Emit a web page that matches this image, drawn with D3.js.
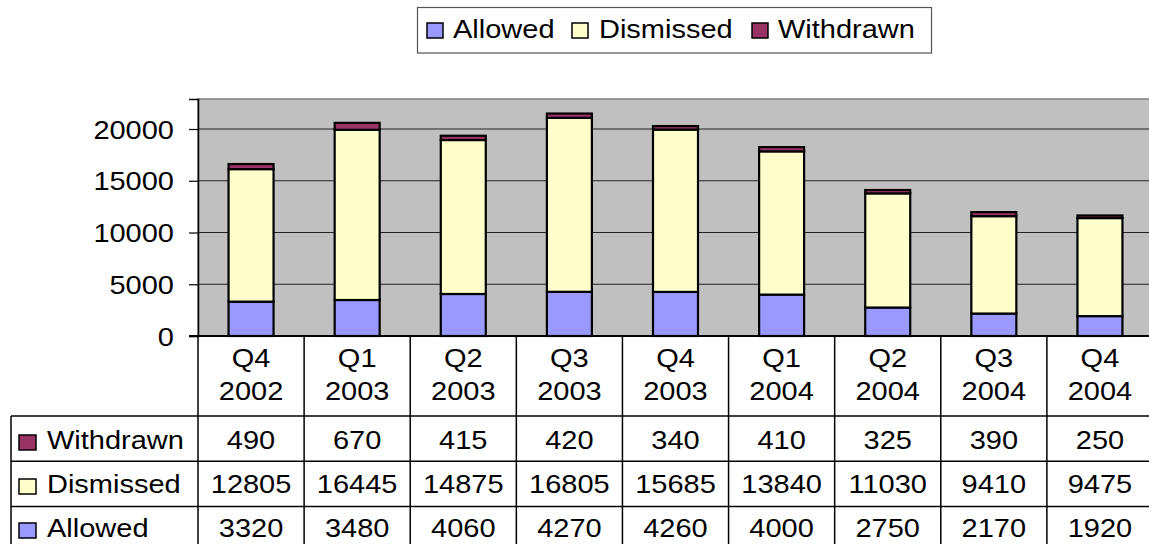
<!DOCTYPE html>
<html>
<head>
<meta charset="utf-8">
<script src="https://cdn.jsdelivr.net/npm/d3@7"></script>
<style>
  body { margin: 0; background: #fff; }
  svg { display: block; font-family: "Liberation Sans", Arial, sans-serif; }
</style>
</head>
<body>
<svg id="chart"></svg>
<script>
// Data
const categories = ['Q4 2002', 'Q1 2003', 'Q2 2003', 'Q3 2003', 'Q4 2003', 'Q1 2004', 'Q2 2004', 'Q3 2004', 'Q4 2004'];
const allowed   = [3320, 3480, 4060, 4270, 4260, 4000, 2750, 2170, 1920];
const dismissed = [12805, 16445, 14875, 16805, 15685, 13840, 11030, 9410, 9475];
const withdrawn = [490, 670, 415, 420, 340, 410, 325, 390, 250];
const seriesNames = ['Allowed', 'Dismissed', 'Withdrawn'];
const seriesColors = ['#9999ff', '#ffffcc', '#993366'];
const yTicks = [0, 5000, 10000, 15000, 20000];

const W = 1149, H = 544;
const plot = { left: 198, right: 1153, top: 99, bottom: 336 };
const fontSize = 25;
const stretch = 1.16; // reference text is slightly wide

const svg = d3.select('#chart').attr('width', W).attr('height', H);

// helper for horizontally stretched text
const addText = (sel, x, y, str, anchor) => sel.append('text')
  .attr('transform', `translate(${x},${y}) scale(${stretch},1)`)
  .attr('text-anchor', anchor || 'middle')
  .style('font-size', fontSize + 'px')
  .attr('fill', '#000')
  .text(str);

const rows = categories.map((c, i) => ({
  cat: c, Allowed: allowed[i], Dismissed: dismissed[i], Withdrawn: withdrawn[i]
}));

const x = d3.scaleBand().domain(categories).range([plot.left, plot.right]).paddingInner(0.576).paddingOuter(0.288);
const col = d3.scaleBand().domain(categories).range([plot.left, plot.right]).padding(0);
const y = d3.scaleLinear().domain([0, 22900]).range([plot.bottom, plot.top]);
const color = d3.scaleOrdinal().domain(seriesNames).range(seriesColors);

// plot background
svg.append('rect')
  .attr('x', plot.left).attr('y', plot.top)
  .attr('width', plot.right - plot.left).attr('height', plot.bottom - plot.top)
  .attr('fill', '#c0c0c0').attr('stroke', '#808080').attr('stroke-width', 1.5);

// gridlines
svg.append('g').selectAll('line')
  .data(yTicks.filter(t => t > 0))
  .enter().append('line')
  .attr('x1', plot.left).attr('x2', plot.right)
  .attr('y1', d => y(d)).attr('y2', d => y(d))
  .attr('stroke', '#222').attr('stroke-width', 1.2);

// y axis
const yAxis = svg.append('g')
  .attr('transform', `translate(${plot.left},0)`)
  .call(d3.axisLeft(y).tickValues(yTicks).tickSize(9).tickFormat(d3.format('d')));
yAxis.select('.domain').attr('stroke', '#000').attr('stroke-width', 1.5);
yAxis.selectAll('.tick line').attr('stroke', '#000').attr('stroke-width', 1.2);
yAxis.selectAll('.tick text').remove();
yAxis.selectAll('.tick').each(function (d) {
  addText(d3.select(this), -24, 9, d, 'end');
});

// stacked bars
const stack = d3.stack().keys(seriesNames)(rows);
svg.append('g').selectAll('g')
  .data(stack)
  .enter().append('g')
  .attr('fill', d => color(d.key))
  .selectAll('rect')
  .data(d => d)
  .enter().append('rect')
  .attr('x', d => x(d.data.cat))
  .attr('width', x.bandwidth())
  .attr('y', d => y(d[1]))
  .attr('height', d => y(d[0]) - y(d[1]))
  .attr('stroke', '#000').attr('stroke-width', 2.2);

// x axis baseline
svg.append('line')
  .attr('x1', plot.left - 9).attr('x2', plot.right)
  .attr('y1', plot.bottom).attr('y2', plot.bottom)
  .attr('stroke', '#000').attr('stroke-width', 2);

// data table
const rowH = 45.3;
const headBottom = 416;
const tableLeft = 11;
const tableRows = [
  { name: 'Withdrawn', values: withdrawn },
  { name: 'Dismissed', values: dismissed },
  { name: 'Allowed', values: allowed }
];
const table = svg.append('g');

// column lines
table.selectAll('.vline')
  .data(categories.concat(['end']))
  .enter().append('line')
  .attr('x1', (d, i) => i < categories.length ? col(d) : plot.right)
  .attr('x2', (d, i) => i < categories.length ? col(d) : plot.right)
  .attr('y1', plot.bottom).attr('y2', H)
  .attr('stroke', '#000').attr('stroke-width', 1.5);

// row lines
table.selectAll('.hline')
  .data(tableRows.map((r, i) => headBottom + i * rowH).concat([headBottom + 3 * rowH]))
  .enter().append('line')
  .attr('x1', tableLeft).attr('x2', plot.right)
  .attr('y1', d => d).attr('y2', d => d)
  .attr('stroke', '#000').attr('stroke-width', 1.5);

table.append('line')
  .attr('x1', tableLeft).attr('x2', tableLeft)
  .attr('y1', headBottom).attr('y2', H)
  .attr('stroke', '#000').attr('stroke-width', 1.5);

// header labels
categories.forEach(c => {
  const cx = col(c) + col.bandwidth() / 2;
  const parts = c.split(' ');
  addText(table, cx, 367, parts[0]);
  addText(table, cx, 400, parts[1]);
});

// row labels and values
tableRows.forEach((r, i) => {
  const base = 449 + i * 44;
  table.append('rect')
    .attr('x', 19).attr('y', base - 14)
    .attr('width', 17).attr('height', 15)
    .attr('fill', color(r.name)).attr('stroke', '#000').attr('stroke-width', 1.5);
  addText(table, 47, base, r.name, 'start');
  r.values.forEach((v, j) => {
    addText(table, col(categories[j]) + col.bandwidth() / 2, base, v);
  });
});

// legend
const legend = svg.append('g');
legend.append('rect')
  .attr('x', 417.5).attr('y', 7.5).attr('width', 514).attr('height', 45.5)
  .attr('fill', '#fff').attr('stroke', '#555').attr('stroke-width', 1.2);
const legendPos = [{ sw: 427, tx: 453 }, { sw: 572, tx: 599 }, { sw: 752, tx: 778 }];
seriesNames.forEach((s, i) => {
  legend.append('rect')
    .attr('x', legendPos[i].sw).attr('y', 23)
    .attr('width', 16).attr('height', 15)
    .attr('fill', color(s)).attr('stroke', '#000').attr('stroke-width', 1.5);
  addText(legend, legendPos[i].tx, 38, s, 'start');
});
</script>
</body>
</html>
